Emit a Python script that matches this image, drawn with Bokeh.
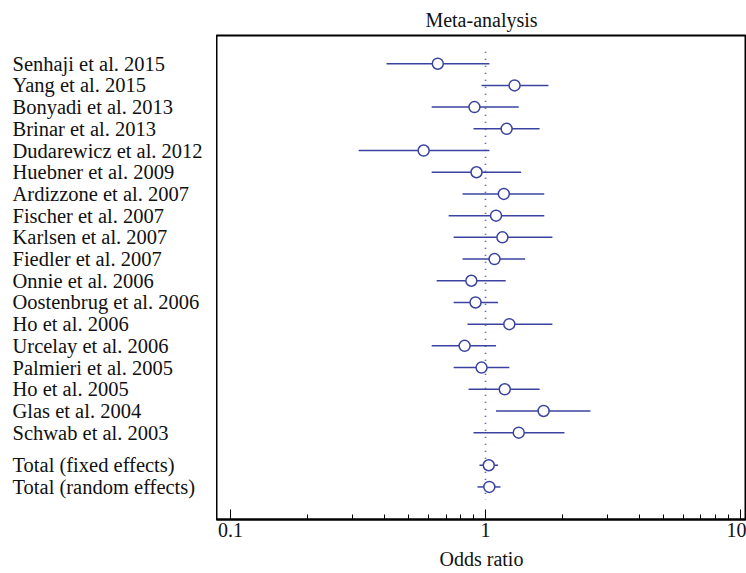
from bokeh.plotting import figure
from bokeh.layouts import row
from bokeh.models import Range1d, FixedTicker, ColumnDataSource
from bokeh.core.properties import value
from bokeh.embed import file_html
from bokeh.resources import INLINE

studies = ["Senhaji et al. 2015", "Yang et al. 2015", "Bonyadi et al. 2013", "Brinar et al. 2013",
           "Dudarewicz et al. 2012", "Huebner et al. 2009", "Ardizzone et al. 2007", "Fischer et al. 2007",
           "Karlsen et al. 2007", "Fiedler et al. 2007", "Onnie et al. 2006", "Oostenbrug et al. 2006",
           "Ho et al. 2006", "Urcelay et al. 2006", "Palmieri et al. 2005", "Ho et al. 2005",
           "Glas et al. 2004", "Schwab et al. 2003", "Total (fixed effects)", "Total (random effects)"]
odds = [0.65, 1.30, 0.905, 1.21, 0.572, 0.922, 1.18, 1.10, 1.165, 1.085, 0.88, 0.914,
        1.24, 0.828, 0.965, 1.19, 1.69, 1.35, 1.03, 1.035]
lower = [0.409, 0.965, 0.615, 0.897, 0.318, 0.615, 0.813, 0.717, 0.75, 0.813, 0.643, 0.75,
         0.85, 0.615, 0.75, 0.858, 1.10, 0.897, 0.947, 0.93]
upper = [1.036, 1.765, 1.35, 1.63, 1.036, 1.38, 1.70, 1.70, 1.83, 1.43, 1.20, 1.12,
         1.83, 1.10, 1.24, 1.63, 2.58, 2.04, 1.12, 1.145]
rows = [0, 1, 2, 3, 4, 5, 6, 7, 8, 9, 10, 11, 12, 13, 14, 15, 16, 17, 18.5, 19.5]
major_ticks = [0.1, 1, 10]
minor_ticks = [0.2, 0.3, 0.4, 0.5, 0.6, 0.7, 0.8, 0.9, 2, 3, 4, 5, 6, 7, 8, 9]

BLUE = "#3a44a0"
FONT = "Liberation Serif"
TXT = "#111111"

src = ColumnDataSource(dict(y=rows, est=odds, lo=lower, hi=upper, name=studies,
                            lx=[12] * len(rows)))
yr = Range1d(21.0, -1.3)

# left panel with study names
lp = figure(width=216, height=573, x_range=Range1d(0, 216), y_range=yr,
            x_axis_location=None, y_axis_location=None,
            output_backend="svg", toolbar_location=None,
            min_border_left=0, min_border_right=0, min_border_top=35, min_border_bottom=54)
lp.outline_line_color = None
lp.xgrid.visible = False
lp.ygrid.visible = False
lp.text(x="lx", y="y", text="name", source=src, text_font=value(FONT),
        text_font_size="20.5px", text_color=TXT, text_baseline="middle", text_align="left")

# forest plot
p = figure(width=530, height=573, x_axis_type="log", y_axis_location=None,
           x_range=Range1d(0.0881, 10.56), y_range=yr,
           output_backend="svg", toolbar_location=None,
           min_border_left=0, min_border_right=0, min_border_top=35, min_border_bottom=54,
           title="Meta-analysis")
p.title.align = "center"
p.title.text_font = FONT
p.title.text_font_size = "20px"
p.title.text_font_style = "normal"
p.title.text_color = TXT
p.title.standoff = 10

p.xgrid.visible = False
p.ygrid.visible = False
p.outline_line_color = "black"
p.outline_line_width = 2

# reference line at OR = 1
p.segment(x0=[1], x1=[1], y0=[-0.55], y1=[20.1], line_color=BLUE, line_width=1.7, line_dash="1 6")

p.segment(x0="lo", x1="hi", y0="y", y1="y", source=src, line_color=BLUE, line_width=1.5)
p.scatter(x="est", y="y", source=src, size=11, marker="circle", fill_color="white",
          line_color=BLUE, line_width=1.5)

ax = p.xaxis[0]
ax.ticker = FixedTicker(ticks=major_ticks, minor_ticks=minor_ticks)
ax.major_label_overrides = {0.1: "0.1", 1: "1", 10: "10"}
ax.axis_label = "Odds ratio"
ax.axis_label_text_font = FONT
ax.axis_label_text_font_size = "20px"
ax.axis_label_text_font_style = "normal"
ax.axis_label_text_color = TXT
ax.axis_label_standoff = 8
ax.major_label_text_font = FONT
ax.major_label_text_font_size = "20px"
ax.major_label_text_color = TXT
ax.major_label_standoff = 3
ax.axis_line_width = 2
ax.axis_line_color = "black"
ax.major_tick_in = 10
ax.major_tick_out = 0
ax.minor_tick_in = 5
ax.minor_tick_out = 0
ax.major_tick_line_width = 1
ax.minor_tick_line_width = 1

layout = row(lp, p, spacing=0)
open("out.html", "w").write(file_html(layout, INLINE))
